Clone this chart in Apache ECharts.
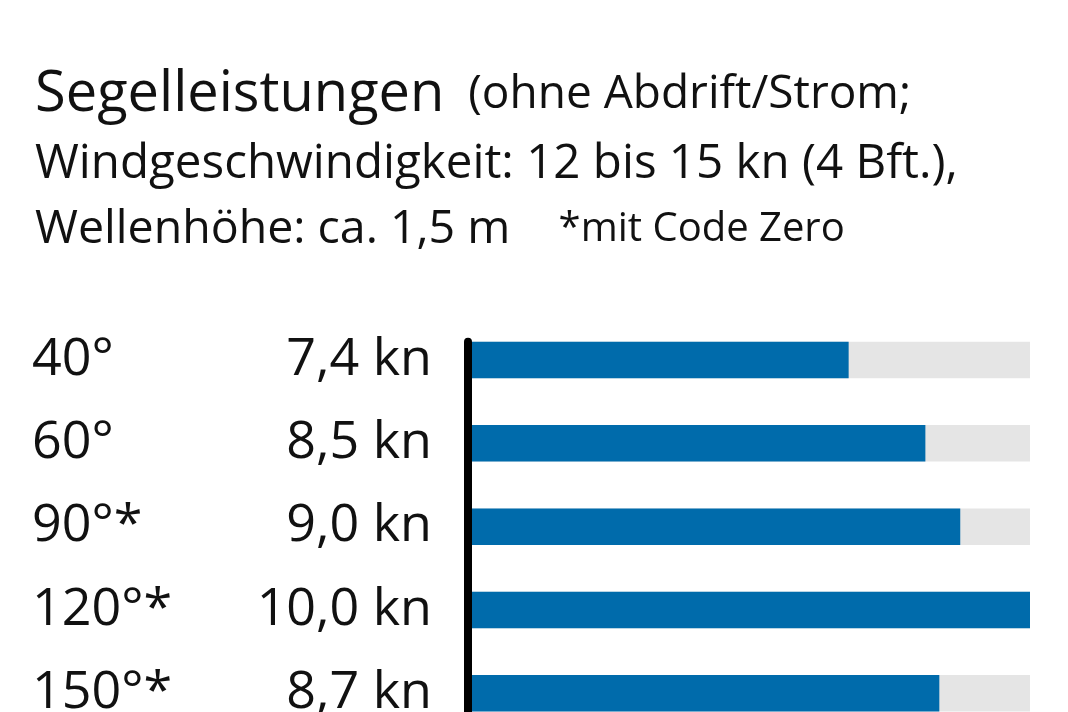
<!DOCTYPE html>
<html>
<head>
<meta charset="utf-8">
<script src="https://cdn.jsdelivr.net/npm/echarts@6/dist/echarts.min.js"></script>
<style>
  html, body { margin: 0; padding: 0; background: #fff; overflow: hidden; }
  /* die letzte Zeile ist im Original unten angeschnitten */
  #chart { width: 1068px; height: 745px; }
</style>
</head>
<body>
<div id="chart"></div>
<script>
// Segelleistungen je Windwinkel
var angles = ["40°", "60°", "90°*", "120°*", "150°*"];
var speeds = [7.4, 8.5, 9.0, 10.0, 8.7];

var FONT = "Open Sans";

var fmtKn = function(v) {
    return v.toFixed(1).replace(".", ",") + " kn";
};

var txt = function(size) {
    return { fontFamily: FONT, fontSize: size, fontWeight: "normal", color: "#111" };
};

var chart = echarts.init(document.getElementById("chart"));

chart.setOption({
    backgroundColor: "#fff",
    animation: false,
    title: [{
        left: 30,
        top: 62,
        text: "{big|Segelleistungen}{mid|  (ohne Abdrift/Strom;}",
        textStyle: {
            fontWeight: "normal",
            rich: { big: txt(56), mid: txt(46) }
        }
    }, {
        left: 30,
        top: 135,
        text: "Windgeschwindigkeit: 12 bis 15 kn (4 Bft.),",
        textStyle: txt(47.5)
    }, {
        left: 30,
        top: 201,
        text: "{mid|Wellenhöhe: ca. 1,5 m    }{small|*mit Code Zero}",
        textStyle: {
            fontWeight: "normal",
            rich: { mid: txt(46.5), small: txt(40) }
        }
    }],
    grid: [{
        left: 472,
        right: 38,
        top: 318.3,
        height: 416.7
    }, {
        left: 468,
        width: 10,
        top: 341.7,
        height: 400
    }],
    xAxis: [{
        type: "value",
        min: 2,
        max: 10,
        show: false
    }, {
        type: "value",
        gridIndex: 1,
        show: false
    }],
    yAxis: [{
        type: "category",
        data: angles,
        inverse: true,
        axisLine: { show: false },
        axisTick: { show: false },
        splitLine: { show: false },
        axisLabel: {
            margin: 40,
            formatter: function(value, idx) {
                return "{a|" + value + "}{b|" + fmtKn(speeds[idx]) + "}";
            },
            rich: {
                a: { width: 233, align: "left", fontFamily: FONT, fontSize: 52, color: "#111" },
                b: { width: 167, align: "right", fontFamily: FONT, fontSize: 52, color: "#111" }
            }
        }
    }, {
        type: "value",
        gridIndex: 1,
        axisLine: { show: true, lineStyle: { color: "#000", width: 8 } },
        axisTick: { show: false },
        axisLabel: { show: false },
        splitLine: { show: false }
    }],
    series: [{
        type: "bar",
        data: speeds,
        barWidth: 36.5,
        itemStyle: { color: "#006bab" },
        showBackground: true,
        backgroundStyle: { color: "#e5e5e5" }
    }]
});
</script>
</body>
</html>
